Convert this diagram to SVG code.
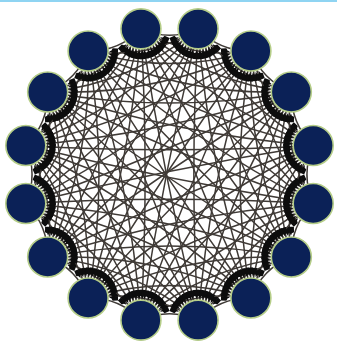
<svg xmlns="http://www.w3.org/2000/svg" width="337" height="343" viewBox="0 0 337 343">
<style>
.edges{fill:none;stroke:#3f3a36;stroke-width:1.5;marker-start:url(#ah);marker-end:url(#ah);}
.node circle{fill:#0b2157;stroke:#b5cd88;stroke-width:1.6;}
</style>
<defs>
<marker id="ah" markerUnits="userSpaceOnUse" markerWidth="60" markerHeight="20" viewBox="-40 -10 60 20" refX="0" refY="0" orient="auto-start-reverse" overflow="visible">
<path d="M-21,0 L-23.5,-1 L-24.5,-3.2 L-30,-3.2 L-30,3.2 L-24.5,3.2 L-23.5,1 Z" fill="#0d0d0d"/>
</marker>
<path id="e1" d="M-28.68,-144.18 Q0,-131.64 28.68,-144.18"/>
<path id="e2" d="M-56.25,-135.81 Q0,-115.06 56.25,-135.81"/>
<path id="e3" d="M-81.67,-122.23 Q0,-97.46 81.67,-122.23"/>
<path id="e4" d="M-103.94,-103.94 Q0,-78.98 103.94,-103.94"/>
<path id="e5" d="M-122.23,-81.67 Q0,-59.84 122.23,-81.67"/>
<path id="e6" d="M-135.81,-56.25 Q0,-40.17 135.81,-56.25"/>
<path id="e7" d="M-144.18,-28.68 Q0,-20.18 144.18,-28.68"/>
<path id="e8" d="M-147,0 Q0,6 147,0"/>
</defs>
<rect x="0" y="0" width="337" height="343" fill="#ffffff"/>
<rect x="0" y="0" width="337" height="2" fill="#8fd4f2"/>
<g id="connectors" class="edges" transform="translate(169.5 174.5) scale(0.9966 1.0102)">
<use href="#e1" transform="rotate(0)"/><use href="#e1" transform="rotate(22.5)"/><use href="#e1" transform="rotate(45)"/><use href="#e1" transform="rotate(67.5)"/><use href="#e1" transform="rotate(90)"/><use href="#e1" transform="rotate(112.5)"/><use href="#e1" transform="rotate(135)"/><use href="#e1" transform="rotate(157.5)"/><use href="#e1" transform="rotate(180)"/><use href="#e1" transform="rotate(202.5)"/><use href="#e1" transform="rotate(225)"/><use href="#e1" transform="rotate(247.5)"/><use href="#e1" transform="rotate(270)"/><use href="#e1" transform="rotate(292.5)"/><use href="#e1" transform="rotate(315)"/><use href="#e1" transform="rotate(337.5)"/>
<use href="#e2" transform="rotate(11.25)"/><use href="#e2" transform="rotate(33.75)"/><use href="#e2" transform="rotate(56.25)"/><use href="#e2" transform="rotate(78.75)"/><use href="#e2" transform="rotate(101.25)"/><use href="#e2" transform="rotate(123.75)"/><use href="#e2" transform="rotate(146.25)"/><use href="#e2" transform="rotate(168.75)"/><use href="#e2" transform="rotate(191.25)"/><use href="#e2" transform="rotate(213.75)"/><use href="#e2" transform="rotate(236.25)"/><use href="#e2" transform="rotate(258.75)"/><use href="#e2" transform="rotate(281.25)"/><use href="#e2" transform="rotate(303.75)"/><use href="#e2" transform="rotate(326.25)"/><use href="#e2" transform="rotate(348.75)"/>
<use href="#e3" transform="rotate(0)"/><use href="#e3" transform="rotate(22.5)"/><use href="#e3" transform="rotate(45)"/><use href="#e3" transform="rotate(67.5)"/><use href="#e3" transform="rotate(90)"/><use href="#e3" transform="rotate(112.5)"/><use href="#e3" transform="rotate(135)"/><use href="#e3" transform="rotate(157.5)"/><use href="#e3" transform="rotate(180)"/><use href="#e3" transform="rotate(202.5)"/><use href="#e3" transform="rotate(225)"/><use href="#e3" transform="rotate(247.5)"/><use href="#e3" transform="rotate(270)"/><use href="#e3" transform="rotate(292.5)"/><use href="#e3" transform="rotate(315)"/><use href="#e3" transform="rotate(337.5)"/>
<use href="#e4" transform="rotate(11.25)"/><use href="#e4" transform="rotate(33.75)"/><use href="#e4" transform="rotate(56.25)"/><use href="#e4" transform="rotate(78.75)"/><use href="#e4" transform="rotate(101.25)"/><use href="#e4" transform="rotate(123.75)"/><use href="#e4" transform="rotate(146.25)"/><use href="#e4" transform="rotate(168.75)"/><use href="#e4" transform="rotate(191.25)"/><use href="#e4" transform="rotate(213.75)"/><use href="#e4" transform="rotate(236.25)"/><use href="#e4" transform="rotate(258.75)"/><use href="#e4" transform="rotate(281.25)"/><use href="#e4" transform="rotate(303.75)"/><use href="#e4" transform="rotate(326.25)"/><use href="#e4" transform="rotate(348.75)"/>
<use href="#e5" transform="rotate(0)"/><use href="#e5" transform="rotate(22.5)"/><use href="#e5" transform="rotate(45)"/><use href="#e5" transform="rotate(67.5)"/><use href="#e5" transform="rotate(90)"/><use href="#e5" transform="rotate(112.5)"/><use href="#e5" transform="rotate(135)"/><use href="#e5" transform="rotate(157.5)"/><use href="#e5" transform="rotate(180)"/><use href="#e5" transform="rotate(202.5)"/><use href="#e5" transform="rotate(225)"/><use href="#e5" transform="rotate(247.5)"/><use href="#e5" transform="rotate(270)"/><use href="#e5" transform="rotate(292.5)"/><use href="#e5" transform="rotate(315)"/><use href="#e5" transform="rotate(337.5)"/>
<use href="#e6" transform="rotate(11.25)"/><use href="#e6" transform="rotate(33.75)"/><use href="#e6" transform="rotate(56.25)"/><use href="#e6" transform="rotate(78.75)"/><use href="#e6" transform="rotate(101.25)"/><use href="#e6" transform="rotate(123.75)"/><use href="#e6" transform="rotate(146.25)"/><use href="#e6" transform="rotate(168.75)"/><use href="#e6" transform="rotate(191.25)"/><use href="#e6" transform="rotate(213.75)"/><use href="#e6" transform="rotate(236.25)"/><use href="#e6" transform="rotate(258.75)"/><use href="#e6" transform="rotate(281.25)"/><use href="#e6" transform="rotate(303.75)"/><use href="#e6" transform="rotate(326.25)"/><use href="#e6" transform="rotate(348.75)"/>
<use href="#e7" transform="rotate(0)"/><use href="#e7" transform="rotate(22.5)"/><use href="#e7" transform="rotate(45)"/><use href="#e7" transform="rotate(67.5)"/><use href="#e7" transform="rotate(90)"/><use href="#e7" transform="rotate(112.5)"/><use href="#e7" transform="rotate(135)"/><use href="#e7" transform="rotate(157.5)"/><use href="#e7" transform="rotate(180)"/><use href="#e7" transform="rotate(202.5)"/><use href="#e7" transform="rotate(225)"/><use href="#e7" transform="rotate(247.5)"/><use href="#e7" transform="rotate(270)"/><use href="#e7" transform="rotate(292.5)"/><use href="#e7" transform="rotate(315)"/><use href="#e7" transform="rotate(337.5)"/>
<use href="#e8" transform="rotate(11.25)"/><use href="#e8" transform="rotate(33.75)"/><use href="#e8" transform="rotate(56.25)"/><use href="#e8" transform="rotate(78.75)"/><use href="#e8" transform="rotate(101.25)"/><use href="#e8" transform="rotate(123.75)"/><use href="#e8" transform="rotate(146.25)"/><use href="#e8" transform="rotate(168.75)"/>
</g>
<g id="node0" class="node"><circle cx="198.08" cy="28.85" r="20"/></g>
<g id="node1" class="node"><circle cx="250.89" cy="51.03" r="20"/></g>
<g id="node2" class="node"><circle cx="291.31" cy="92.00" r="20"/></g>
<g id="node3" class="node"><circle cx="313.19" cy="145.53" r="20"/></g>
<g id="node4" class="node"><circle cx="313.19" cy="203.47" r="20"/></g>
<g id="node5" class="node"><circle cx="291.31" cy="257.00" r="20"/></g>
<g id="node6" class="node"><circle cx="250.89" cy="297.97" r="20"/></g>
<g id="node7" class="node"><circle cx="198.08" cy="320.15" r="20"/></g>
<g id="node8" class="node"><circle cx="140.92" cy="320.15" r="20"/></g>
<g id="node9" class="node"><circle cx="88.11" cy="297.97" r="20"/></g>
<g id="node10" class="node"><circle cx="47.69" cy="257.00" r="20"/></g>
<g id="node11" class="node"><circle cx="25.81" cy="203.47" r="20"/></g>
<g id="node12" class="node"><circle cx="25.81" cy="145.53" r="20"/></g>
<g id="node13" class="node"><circle cx="47.69" cy="92.00" r="20"/></g>
<g id="node14" class="node"><circle cx="88.11" cy="51.03" r="20"/></g>
<g id="node15" class="node"><circle cx="140.92" cy="28.85" r="20"/></g>
</svg>
